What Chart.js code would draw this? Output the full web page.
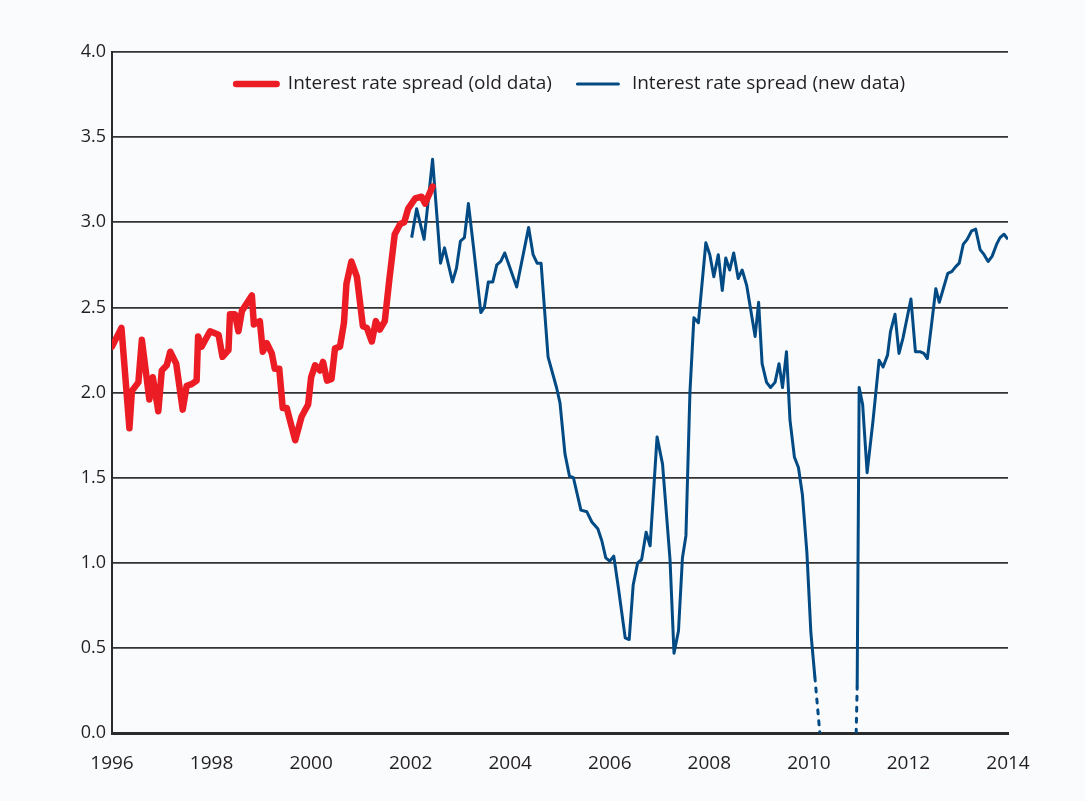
<!DOCTYPE html>
<html>
<head>
<meta charset="utf-8">
<script src="https://cdn.jsdelivr.net/npm/chart.js@4"></script>
<style>
  html, body { margin: 0; padding: 0; background: #f9fbfd; }
  #wrap { width: 1085px; height: 801px; }
</style>
</head>
<body>
<div id="wrap"><canvas id="spreadChart"></canvas></div>
<script>
// old data series (red), decimal years
const oldDates = [
  1996.00, 1996.19, 1996.35, 1996.40, 1996.53, 1996.60, 1996.75, 1996.82, 1996.93, 1997.00,
  1997.10, 1997.17, 1997.29, 1997.42, 1997.50, 1997.60, 1997.70, 1997.73, 1997.80, 1997.97,
  1998.14, 1998.22, 1998.34, 1998.37, 1998.47, 1998.54, 1998.61, 1998.81, 1998.85, 1998.97,
  1999.03, 1999.11, 1999.21, 1999.27, 1999.36, 1999.43, 1999.51, 1999.68, 1999.81, 1999.94,
  2000.00, 2000.08, 2000.18, 2000.24, 2000.32, 2000.41, 2000.48, 2000.58, 2000.66, 2000.71,
  2000.81, 2000.92, 2001.04, 2001.12, 2001.22, 2001.30, 2001.38, 2001.48, 2001.57, 2001.68,
  2001.79, 2001.87, 2001.95, 2002.09, 2002.22, 2002.29, 2002.44
];
const oldSpread = [
  2.27, 2.38, 1.79, 2.01, 2.06, 2.31, 1.96, 2.09, 1.89, 2.13,
  2.16, 2.24, 2.17, 1.90, 2.04, 2.05, 2.07, 2.33, 2.27, 2.36,
  2.34, 2.21, 2.25, 2.46, 2.46, 2.36, 2.48, 2.57, 2.40, 2.42,
  2.24, 2.29, 2.23, 2.14, 2.14, 1.91, 1.91, 1.72, 1.86, 1.93,
  2.09, 2.16, 2.13, 2.18, 2.07, 2.08, 2.26, 2.27, 2.41, 2.64,
  2.77, 2.68, 2.39, 2.38, 2.30, 2.42, 2.37, 2.42, 2.66, 2.93,
  2.99, 3.00, 3.08, 3.14, 3.15, 3.11, 3.21
];

// new data series (blue), null marks the break around 2010
const newDates = [
  2002.02, 2002.12, 2002.27, 2002.44, 2002.60, 2002.68, 2002.84, 2002.92, 2003.00, 2003.08,
  2003.16, 2003.26, 2003.41, 2003.48, 2003.56, 2003.65, 2003.73, 2003.81, 2003.89, 2004.13,
  2004.37, 2004.46, 2004.54, 2004.62, 2004.76, 2004.93, 2005.00, 2005.10, 2005.19, 2005.27,
  2005.42, 2005.54, 2005.64, 2005.76, 2005.84, 2005.92, 2006.00, 2006.08, 2006.17, 2006.31,
  2006.39, 2006.47, 2006.56, 2006.64, 2006.73, 2006.81, 2006.95, 2007.06, 2007.21, 2007.29,
  2007.38, 2007.46, 2007.53, 2007.61, 2007.69, 2007.78, 2007.93, 2008.01, 2008.09, 2008.18,
  2008.26, 2008.33, 2008.41, 2008.49, 2008.58, 2008.66, 2008.75, 2008.92, 2008.99, 2009.06,
  2009.15, 2009.23, 2009.32, 2009.40, 2009.47, 2009.55, 2009.62, 2009.71, 2009.79, 2009.87,
  2009.96, 2010.04, 2010.12,
  2010.58,
  2010.97, 2011.01, 2011.08, 2011.17, 2011.29, 2011.41, 2011.49, 2011.58, 2011.64, 2011.73,
  2011.81, 2011.89, 2012.05, 2012.14, 2012.23, 2012.31, 2012.38, 2012.46, 2012.55, 2012.62,
  2012.70, 2012.79, 2012.87, 2012.95, 2013.02, 2013.10, 2013.18, 2013.27, 2013.35, 2013.44,
  2013.52, 2013.60, 2013.68, 2013.77, 2013.84, 2013.92, 2014.00
];
const newSpread = [
  2.91, 3.08, 2.90, 3.37, 2.76, 2.85, 2.65, 2.73, 2.89, 2.91,
  3.11, 2.86, 2.47, 2.50, 2.65, 2.65, 2.75, 2.77, 2.82, 2.62,
  2.97, 2.81, 2.76, 2.76, 2.21, 2.03, 1.94, 1.64, 1.51, 1.50,
  1.31, 1.30, 1.24, 1.20, 1.13, 1.03, 1.01, 1.04, 0.86, 0.56,
  0.55, 0.87, 1.00, 1.02, 1.18, 1.10, 1.74, 1.58, 1.02, 0.47,
  0.60, 1.03, 1.16, 2.00, 2.44, 2.41, 2.88, 2.81, 2.68, 2.81,
  2.60, 2.79, 2.72, 2.82, 2.67, 2.72, 2.63, 2.33, 2.53, 2.17,
  2.06, 2.03, 2.06, 2.17, 2.03, 2.24, 1.84, 1.62, 1.56, 1.40,
  1.06, 0.59, 0.33,
  null,
  0.27, 2.03, 1.93, 1.53, 1.84, 2.19, 2.15, 2.22, 2.36, 2.46,
  2.23, 2.32, 2.55, 2.24, 2.24, 2.23, 2.20, 2.39, 2.61, 2.53,
  2.61, 2.70, 2.71, 2.74, 2.76, 2.87, 2.90, 2.95, 2.96, 2.84,
  2.81, 2.77, 2.80, 2.87, 2.91, 2.93, 2.90
];

// dotted part of the new series where it drops below zero
const gapDates = [2010.12, 2010.22, 2010.58, 2010.95, 2010.97];
const gapSpread = [0.33, 0.0, null, 0.0, 0.27];

const yearTicks = [1996, 1998, 2000, 2002, 2004, 2006, 2008, 2010, 2012, 2014];
const spreadTicks = [0, 0.5, 1, 1.5, 2, 2.5, 3, 3.5, 4];

const legendLabels = ["Interest rate spread (old data)", "Interest rate spread (new data)"];

const RED = "#ec1c24";
const BLUE = "#024a84";
const INK = "#231f20";
const FONT = "'Open Sans', sans-serif";

const toPoints = (xs, ys) => xs.map((x, i) => ({ x: x, y: ys[i] }));

// legend drawn inside the plot area, like the original
const innerLegend = {
  id: "innerLegend",
  afterDraw(chart) {
    const ctx = chart.ctx;
    const area = chart.chartArea;
    const items = [
      { text: legendLabels[0], color: RED, width: 6.5, len: 47, gap: 8 },
      { text: legendLabels[1], color: BLUE, width: 3.2, len: 44, gap: 12 },
    ];
    ctx.save();
    ctx.font = "19px " + FONT;
    let total = 0;
    items.forEach((it, i) => {
      it.tw = ctx.measureText(it.text).width;
      total += it.len + it.gap + it.tw + (i < items.length - 1 ? 24 : 0);
    });
    let x = (area.left + area.right) / 2 - total / 2 + 9;
    const y = area.top + 32;
    items.forEach((it) => {
      ctx.strokeStyle = it.color;
      ctx.lineWidth = it.width;
      ctx.lineCap = "round";
      ctx.beginPath();
      ctx.moveTo(x + it.width / 2, y);
      ctx.lineTo(x + it.len - it.width / 2, y);
      ctx.stroke();
      x += it.len + it.gap;
      ctx.fillStyle = INK;
      ctx.textBaseline = "middle";
      ctx.textAlign = "left";
      ctx.fillText(it.text, x, y);
      x += it.tw + 24;
    });
    ctx.restore();
  },
};

const bgPlugin = {
  id: "bg",
  beforeDraw(chart) {
    const ctx = chart.ctx;
    ctx.save();
    ctx.fillStyle = "#f9fbfd";
    ctx.fillRect(0, 0, chart.width, chart.height);
    ctx.restore();
  },
};

new Chart(document.getElementById("spreadChart"), {
  type: "line",
  data: {
    datasets: [
      {
        label: legendLabels[0],
        data: toPoints(oldDates, oldSpread),
        borderColor: RED,
        borderWidth: 6.5,
        borderCapStyle: "round",
        borderJoinStyle: "round",
        pointRadius: 0,
        tension: 0,
      },
      {
        label: legendLabels[1],
        data: toPoints(newDates, newSpread),
        borderColor: BLUE,
        borderWidth: 3,
        borderJoinStyle: "round",
        pointRadius: 0,
        tension: 0,
        spanGaps: false,
      },
      {
        label: "gap",
        data: toPoints(gapDates, gapSpread),
        borderColor: BLUE,
        borderWidth: 3,
        borderDash: [4, 7],
        borderCapStyle: "round",
        pointRadius: 0,
        tension: 0,
        spanGaps: false,
      },
    ],
  },
  options: {
    responsive: true,
    maintainAspectRatio: false,
    animation: false,
    layout: { padding: { top: 52, right: 77, left: 0, bottom: 7 } },
    plugins: {
      legend: { display: false },
      tooltip: { enabled: false },
    },
    scales: {
      x: {
        type: "linear",
        min: 1996,
        max: 2014,
        afterBuildTicks: (scale) => {
          scale.ticks = yearTicks.map((v) => ({ value: v }));
        },
        ticks: {
          callback: (v) => String(v),
          color: INK,
          font: { family: FONT, size: 19 },
          padding: 19,
          maxRotation: 0,
          autoSkip: false,
        },
        grid: { display: false, drawTicks: false },
        border: { display: true, color: "#2b2b2b", width: 3 },
      },
      y: {
        min: 0,
        max: 4,
        afterBuildTicks: (scale) => {
          scale.ticks = spreadTicks.map((v) => ({ value: v }));
        },
        afterFit: (scale) => {
          scale.width = 112;
        },
        ticks: {
          callback: (v) => Number(v).toFixed(1),
          color: INK,
          font: { family: FONT, size: 18 },
          padding: 6,
        },
        grid: { color: "#333333", lineWidth: 1.8, drawTicks: false },
        border: { display: true, color: "#2b2b2b", width: 2 },
      },
    },
  },
  plugins: [bgPlugin, innerLegend],
});
</script>
</body>
</html>
